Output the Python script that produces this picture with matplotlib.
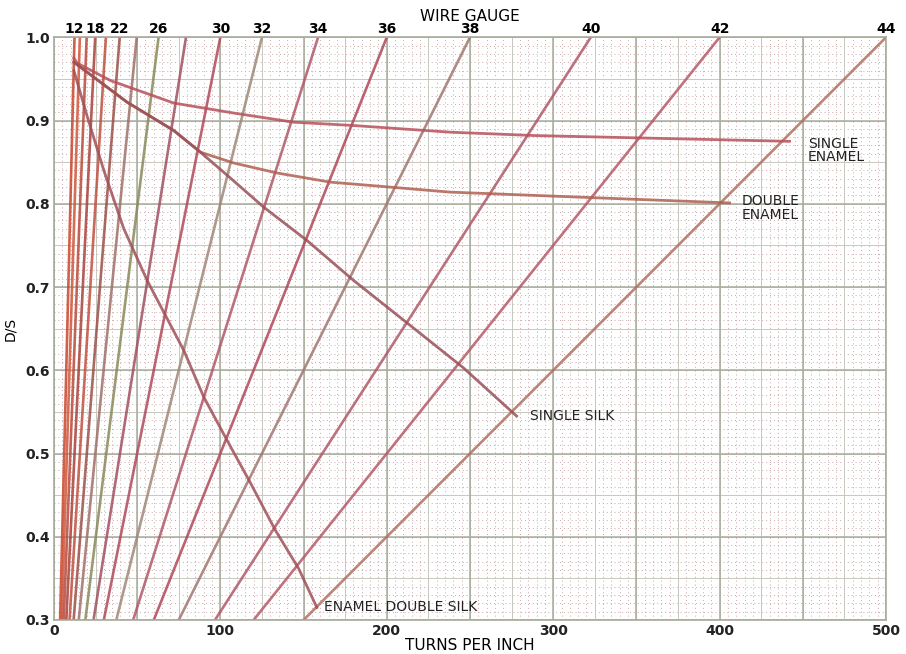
import numpy as np
import matplotlib
matplotlib.use("Agg")
import matplotlib.pyplot as plt

# 线规（偶数号）与裸线直径（mil）
gauges = [12, 14, 16, 18, 20, 22, 24, 26, 28, 30, 32, 34, 36, 38, 40, 42, 44]
bare_dia_mil = [80.8, 64.1, 50.8, 40.3, 32.0, 25.3, 20.1, 15.9, 12.6, 10.0,
                8.0, 6.3, 5.0, 4.0, 3.1, 2.5, 2.0]
labelled = [12, 18, 22, 26, 30, 32, 34, 36, 38, 40, 42, 44]

# 各种绝缘层曲线
single_enamel_tpi = [12, 14, 34, 72, 108, 144, 180, 238, 288, 354, 442]
single_enamel_ds = [0.975, 0.969, 0.948, 0.921, 0.909, 0.898, 0.894, 0.886, 0.882, 0.879, 0.875]

double_enamel_tpi = [12, 16, 44, 72, 88, 108, 134, 166, 238, 328, 406]
double_enamel_ds = [0.970, 0.964, 0.922, 0.888, 0.862, 0.849, 0.837, 0.826, 0.814, 0.807, 0.801]

single_silk_tpi = [12, 16, 44, 72, 88, 106, 126, 152, 180, 214, 246, 278]
single_silk_ds = [0.970, 0.964, 0.922, 0.888, 0.862, 0.831, 0.796, 0.756, 0.708, 0.654, 0.603, 0.545]

enamel_dsilk_tpi = [12, 20, 30, 42, 56, 78, 90, 104, 118, 133, 147, 158]
enamel_dsilk_ds = [0.960, 0.905, 0.840, 0.770, 0.708, 0.624, 0.568, 0.516, 0.465, 0.408, 0.362, 0.315]

gauge_colors = ['#c8452c', '#d0553a', '#b84a3c', '#a8403a', '#c05040', '#9a5048',
                '#a0706a', '#8a8a5a', '#a05060', '#b04a5a', '#a08878', '#b05868',
                '#b04858', '#a07870', '#b05868', '#b85868', '#b07060']

fig = plt.figure(figsize=(9.06, 6.54), dpi=100)
ax = fig.add_axes([0.0595, 0.052, 0.9185, 0.891])
ax.set_xlim(0, 500)
ax.set_ylim(0.3, 1.0)

# 坐标纸网格
for x in np.arange(0, 501, 5):
    ax.axvline(x, color='#c9a9a9', lw=0.7, ls=(0, (1, 3)), zorder=0)
for y in np.arange(0.3, 1.001, 0.01):
    ax.axhline(y, color='#c9a9a9', lw=0.7, ls=(0, (1, 3)), zorder=0)
for x in np.arange(0, 501, 25):
    ax.axvline(x, color='#c8c8c0', lw=0.7, zorder=0)
for y in np.arange(0.3, 1.001, 0.05):
    ax.axhline(y, color='#c8c8c0', lw=0.7, zorder=0)
for x in np.arange(0, 501, 50):
    ax.axvline(x, color='#a8ac9c', lw=1.1, zorder=0)
for y in np.arange(0.3, 1.001, 0.1):
    ax.axhline(y, color='#a8ac9c', lw=1.1, zorder=0)

# 线规直线 D/S = d * TPI
tpi = np.linspace(0, 520, 200)
for g, d, c in zip(gauges, bare_dia_mil, gauge_colors):
    ax.plot(tpi, tpi * d / 1000.0, color=c, lw=1.9, alpha=0.85, zorder=2)

# 绝缘层曲线
ax.plot(single_enamel_tpi, single_enamel_ds, color='#b8505a', lw=2.0, alpha=0.85, zorder=3)
ax.plot(double_enamel_tpi, double_enamel_ds, color='#b06050', lw=2.0, alpha=0.85, zorder=3)
ax.plot(single_silk_tpi, single_silk_ds, color='#985058', lw=2.0, alpha=0.85, zorder=3)
ax.plot(enamel_dsilk_tpi, enamel_dsilk_ds, color='#a05058', lw=2.0, alpha=0.85, zorder=3)

tfont = dict(fontsize=10, color='#222222')
ax.text(453, 0.864, 'SINGLE\nENAMEL', va='center', ha='left', linespacing=0.95, **tfont)
ax.text(413, 0.795, 'DOUBLE\nENAMEL', va='center', ha='left', linespacing=0.95, **tfont)
ax.text(286, 0.545, 'SINGLE SILK', va='center', ha='left', **tfont)
ax.text(162, 0.316, 'ENAMEL DOUBLE SILK', va='center', ha='left', **tfont)

# 坐标轴
ax.set_xticks([0, 100, 200, 300, 400, 500])
ax.set_yticks([0.3, 0.4, 0.5, 0.6, 0.7, 0.8, 0.9, 1.0])
ax.set_yticklabels(['0.3', '0.4', '0.5', '0.6', '0.7', '0.8', '0.9', '1.0'])
ax.tick_params(length=0, labelsize=10, colors='#222222', pad=3)
for lab in ax.get_yticklabels() + ax.get_xticklabels():
    lab.set_fontweight('bold')
ax.set_xlabel('TURNS PER INCH', fontsize=11, labelpad=0)
ax.set_ylabel('D/S', fontsize=10, labelpad=6)
for s in ax.spines.values():
    s.set_color('#a8ac9c')
    s.set_linewidth(1.2)

# 顶部线规标签
top = ax.secondary_xaxis('top')
top_pos = [1000.0 / d for g, d in zip(gauges, bare_dia_mil) if g in labelled]
top.set_xticks(top_pos)
top.set_xticklabels([str(g) for g in labelled])
top.tick_params(length=0, labelsize=10, pad=1)
for lab in top.get_xticklabels():
    lab.set_fontweight('bold')
top.set_xlabel('WIRE GAUGE', fontsize=11, labelpad=1)
top.spines['top'].set_visible(False)

fig.savefig('out.png', dpi=100)
